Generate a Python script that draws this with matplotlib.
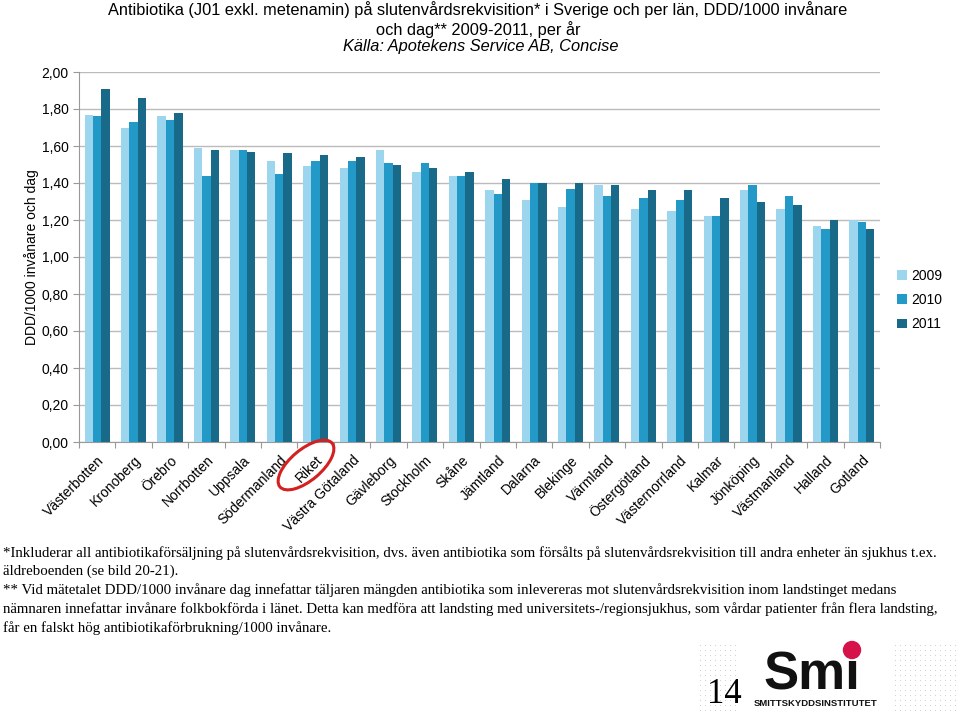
import numpy as np
import matplotlib
matplotlib.use("Agg")
import matplotlib.pyplot as plt
from matplotlib.patches import Ellipse, Circle
from matplotlib.ticker import FuncFormatter, MultipleLocator

plt.rcParams["font.family"] = ["Liberation Sans", "DejaVu Sans"]

# ---- data ---------------------------------------------------------------
lan = ["Västerbotten", "Kronoberg", "Örebro", "Norrbotten", "Uppsala",
       "Södermanland", "Riket", "Västra Götaland", "Gävleborg", "Stockholm",
       "Skåne", "Jämtland", "Dalarna", "Blekinge", "Värmland", "Östergötland",
       "Västernorrland", "Kalmar", "Jönköping", "Västmanland", "Halland",
       "Gotland"]
years = ["2009", "2010", "2011"]
v2009 = [1.77, 1.70, 1.76, 1.59, 1.58, 1.52, 1.49, 1.48, 1.58, 1.46, 1.44,
         1.36, 1.31, 1.27, 1.39, 1.26, 1.25, 1.22, 1.36, 1.26, 1.17, 1.20]
v2010 = [1.76, 1.73, 1.74, 1.44, 1.58, 1.45, 1.52, 1.52, 1.51, 1.51, 1.44,
         1.34, 1.40, 1.37, 1.33, 1.32, 1.31, 1.22, 1.39, 1.33, 1.15, 1.19]
v2011 = [1.91, 1.86, 1.78, 1.58, 1.57, 1.56, 1.55, 1.54, 1.50, 1.48, 1.46,
         1.42, 1.40, 1.40, 1.39, 1.36, 1.36, 1.32, 1.30, 1.28, 1.20, 1.15]
colors = ["#9BD6EE", "#2299C6", "#186A88"]

title1 = "Antibiotika (J01 exkl. metenamin) på slutenvårdsrekvisition* i Sverige och per län, DDD/1000 invånare"
title2 = "och dag** 2009-2011, per år"
source = "Källa: Apotekens Service AB, Concise"
footnote = (
    "*Inkluderar all antibiotikaförsäljning på slutenvårdsrekvisition, dvs. även antibiotika som försålts på slutenvårdsrekvisition till andra enheter än sjukhus t.ex.\n"
    "äldreboenden (se bild 20-21).\n"
    "** Vid mätetalet DDD/1000 invånare dag innefattar täljaren mängden antibiotika som inlevereras mot slutenvårdsrekvisition inom landstinget medans\n"
    "nämnaren innefattar invånare folkbokförda i länet. Detta kan medföra att landsting med universitets-/regionsjukhus, som vårdar patienter från flera landsting,\n"
    "får en falskt hög antibiotikaförbrukning/1000 invånare.")

# ---- figure ---------------------------------------------------------------
fig = plt.figure(figsize=(9.6, 7.11), dpi=100)
ax = fig.add_axes([79 / 960, 1 - 442 / 711, 801 / 960, 370 / 711])

x = np.arange(len(lan))
w = 0.23
for k, (vals, yr) in enumerate(zip([v2009, v2010, v2011], years)):
    ax.bar(x + (k - 1) * w, vals, width=w, color=colors[k], label=yr, zorder=3)

ax.set_xlim(-0.5, len(lan) - 0.5)
ax.set_ylim(0, 2.0)
ax.yaxis.set_major_locator(MultipleLocator(0.2))
ax.yaxis.set_major_formatter(FuncFormatter(lambda v, p: f"{v:.2f}".replace(".", ",")))
ax.grid(axis="y", color="#BBBBBB", lw=1, zorder=0)
for s in ["top", "right"]:
    ax.spines[s].set_visible(False)
ax.spines["left"].set_color("#999999")
ax.spines["bottom"].set_color("#999999")
ax.tick_params(axis="y", length=4, color="#999999", labelsize=10)

# Excel-style tick marks between groups
ax.set_xticks(np.arange(-0.5, len(lan)), minor=False)
ax.set_xticklabels([])
ax.tick_params(axis="x", length=4, color="#999999")
ax.set_xticks(x, minor=True)
ax.set_xticklabels(lan, minor=True, rotation=45, ha="right",
                   rotation_mode="anchor", fontsize=10)
ax.tick_params(axis="x", which="minor", length=0, pad=8)

ax.set_ylabel("DDD/1000 invånare och dag", fontsize=10, labelpad=2)

fig.legend(loc="center", bbox_to_anchor=(0.958, 1 - 300 / 711), frameon=False,
           fontsize=10, handlelength=0.7, handleheight=0.7, handletextpad=0.3,
           labelspacing=0.75)

# titles
fig.text(478 / 960, 1 - 15 / 711, title1, ha="center", va="baseline", fontsize=11.8)
fig.text(478 / 960, 1 - 35 / 711, title2, ha="center", va="baseline", fontsize=11.8)
fig.text(481 / 960, 1 - 51 / 711, source, ha="center", va="baseline", fontsize=11.8,
         style="italic")

# red circle around Riket
fig.add_artist(Ellipse((306, 711 - 465), 68, 31, angle=40, fill=False,
                       edgecolor="#D42020", lw=2.2, transform=None))

# footnote
fig.text(3 / 960, 1 - 546 / 711, footnote, ha="left", va="top", fontsize=10.7,
         family=["Liberation Serif", "DejaVu Serif"], linespacing=1.48)

# dotted background pattern around the logo
deco = fig.add_axes([0, 0, 1, 1], zorder=-1)
deco.set_xlim(0, 960)
deco.set_ylim(711, 0)
deco.axis("off")
for x0, x1 in [(700, 738), (895, 958)]:
    gx, gy = np.meshgrid(np.arange(x0, x1, 5), np.arange(645, 711, 5))
    deco.scatter(gx.ravel(), gy.ravel(), s=0.6, color="#CCCCCC", lw=0)

# page number and logo
fig.text(707 / 960, 1 - 703 / 711, "14", fontsize=25, va="baseline", ha="left",
         family=["Liberation Serif", "DejaVu Serif"])
fig.text(860 / 960, 1 - 690 / 711, "Smı", fontsize=38, fontweight="bold",
         ha="right", va="baseline", color="#111111")
fig.add_artist(Circle((852, 711 - 650), 8.5, color="#D6124B", transform=None))
fig.text(816 / 960, 1 - 704 / 711, "SMITTSKYDDSINSTITUTET", fontsize=6.8,
         fontweight="bold", ha="center", va="center", color="#111111")

fig.savefig("out.png", dpi=100)
